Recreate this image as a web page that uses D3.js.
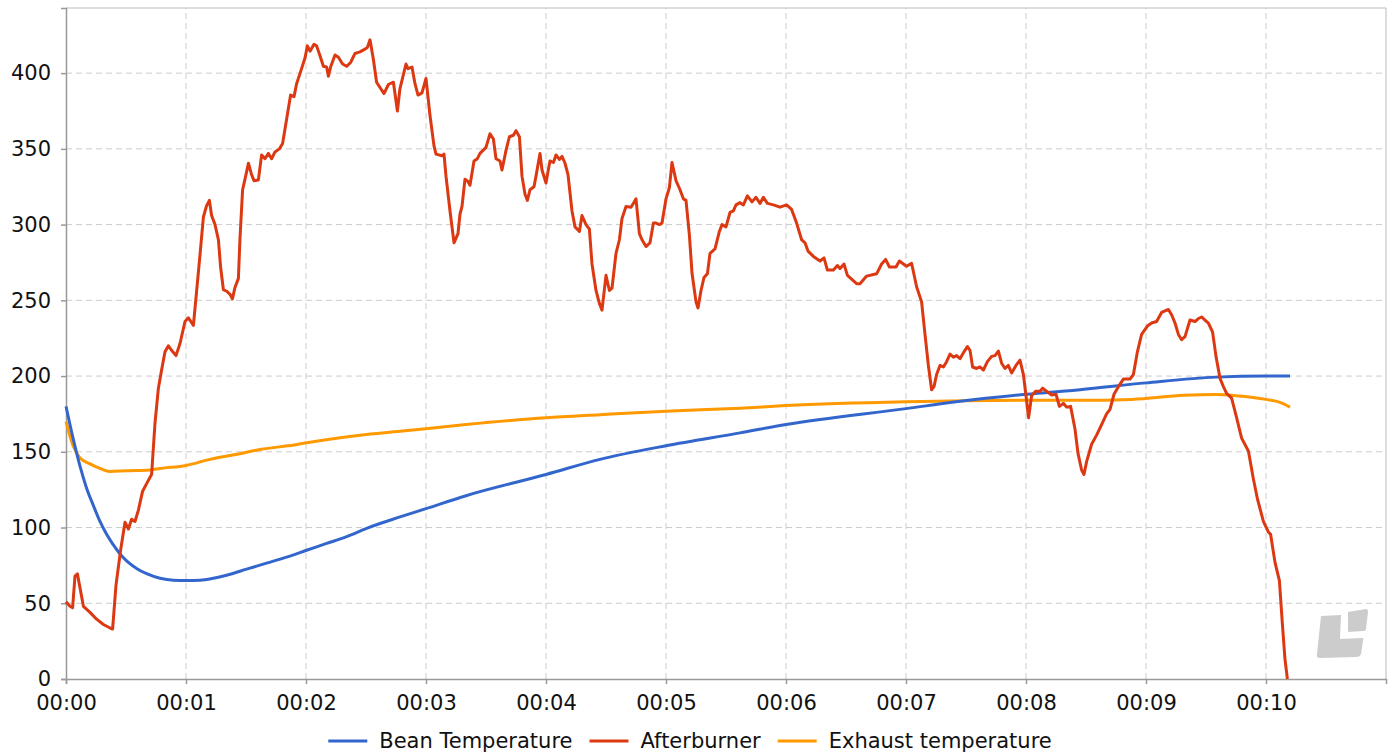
<!DOCTYPE html>
<html>
<head>
<meta charset="utf-8">
<script src="https://cdn.jsdelivr.net/npm/d3@7/dist/d3.min.js"></script>
<style>
  body { margin: 0; background: #fff; }
  svg { display: block; font-family: "DejaVu Sans", sans-serif; }
</style>
</head>
<body>
<svg id="chart" width="1391" height="756"></svg>
<script>
// series names + colours
var seriesNames = ["Bean Temperature", "Afterburner", "Exhaust temperature"];
var seriesColors = ["#3366cc", "#dc3912", "#ff9900"];

// x ticks (seconds) and their labels
var xTicks = [0, 60, 120, 180, 240, 300, 360, 420, 480, 540, 600];
var xTickLabels = ["00:00","00:01","00:02","00:03","00:04","00:05","00:06","00:07","00:08","00:09","00:10"];
var yTicks = [0, 50, 100, 150, 200, 250, 300, 350, 400];

// bean temperature
var beanTime = [0, 3.7, 7, 10.3, 13.7, 17, 20.3, 23.7, 27, 30.3, 35.3, 40.3, 47, 53.7, 60.3, 67, 73.7, 80.3, 90.3, 100.3, 110.3, 120.3, 130.3, 140.3, 150.3, 167, 180, 200, 240, 267, 300, 337, 360, 420, 445, 480, 507, 540, 575, 600, 612];
var beanTemp = [180, 158, 140.5, 126, 114.5, 104, 95.5, 88.5, 82.5, 78, 73, 69.5, 66.5, 65.2, 65, 65.2, 66.5, 68.5, 72.5, 76.5, 80.5, 85, 89.5, 94, 99.5, 107, 112.5, 121, 135, 145, 154, 162.5, 168, 178.5, 183, 188, 191, 195.5, 199.3, 200, 200];

// exhaust temperature
var exhTime = [0, 3.7, 7, 12, 17, 22, 30, 42, 47, 60, 72, 84, 97, 114, 130, 147, 167, 200, 240, 267, 300, 337, 360, 420, 480, 507, 533, 559, 575, 585, 600, 607, 612];
var exhTemp = [170, 153.5, 146, 142, 139, 137, 137.5, 138, 139, 141, 145, 148, 151.5, 154.5, 158, 161, 163.5, 168, 172.5, 174.5, 176.8, 178.8, 180.5, 183, 184, 184, 184.6, 187.3, 187.8, 187, 184.6, 182.6, 179.5];

// afterburner
var abTime = [0, 2, 3.3, 4.5, 5.7, 8.7, 12, 15.3, 18.7, 22.3, 23.3, 25, 27.3, 29.5, 31.2, 32.8, 34.5, 36.2, 38.3, 40.7, 42.8, 44.5, 46.2, 47.8, 49.5, 51.2, 52.8, 55, 57, 59.5, 61.2, 63.7, 65.3, 67, 68.7, 70.3, 71.7, 72.8, 74.5, 76.2, 77.3, 78.7, 80.3, 82, 83.2, 84.5, 86.2, 87, 88.3, 90, 91.2, 92.8, 94, 96.2, 97.8, 99.5, 101.2, 102.8, 104.5, 106.7, 108.3, 110.3, 112.3, 114, 115.3, 117.3, 119.5, 120.7, 122, 124, 125.3, 127, 128.7, 130.3, 131.2, 132.3, 134.5, 136.2, 138.3, 140.3, 142.3, 144.5, 147, 149, 150.7, 152, 153.7, 155.3, 157, 159, 161.2, 163.7, 165.7, 167,
  170, 171, 173, 174.5, 176, 178, 180, 182, 184, 185, 188, 189, 190, 192, 194, 196, 197, 198, 199.5, 201, 202, 204, 205.7, 207, 210, 212, 213.7, 215, 217, 218, 220, 221.7, 223.7, 225, 226.7, 228, 229.5, 230.7, 232, 234, 235, 237, 238, 240, 241, 242, 243.7, 245, 246.7, 248, 249.5, 251, 253, 254.5, 256.7, 258, 260, 261.7, 263, 265, 266.7, 268, 270, 271.7, 273, 275, 276.7, 278, 280, 282.5, 283.7, 285, 286.7, 288, 290, 292, 293.7, 295, 296.7, 298, 300, 301.7, 303, 305, 307, 308.7, 310, 311.7, 313, 315, 316, 317.5, 319, 320.7, 322, 324.5, 326.7, 328, 330, 332, 333.7, 335, 337,
  338.7, 340.7, 343, 345, 347, 348.7, 350.7, 353.7, 357, 360.3, 362.8, 365.3, 367.8, 369.5, 371, 373.7, 377, 379, 380.7, 383.7, 385.7, 387, 389, 390.7, 392.8, 395.3, 397, 400.3, 403.7, 405.3, 407.8, 409.8, 411.7, 415, 416.7, 418.7, 420.3, 422.8, 425.3, 427.8, 429.5, 431.2, 432.8, 434, 435.3, 437, 438.7, 440.3, 442, 443.7, 445.3, 447, 449, 450.7, 452, 453.3, 455.3, 457, 458.7, 460.7, 462.8, 464.5, 466.2, 467.8, 469.5, 471.2, 472.8, 475, 477, 478.7, 480, 481.3, 482.8, 484.8, 487, 488.3, 490.3, 492.8, 495, 496.7, 498.7, 500.3, 502.3,
  504.5, 506, 507.8, 509, 510.3, 512.8, 515.3, 517.8, 520.3, 522, 524, 526.2, 528.7, 532, 533.7, 535.7, 537.8, 540.7, 542.8, 545.3, 547.8, 551.2, 552.8, 554.5, 556.2, 557.8, 559.5, 562, 564.5, 566.2, 567.8, 569.5, 571.2, 573.3, 575, 577, 578.7, 580.3, 582.8, 585.3, 587.8, 591.2, 593.7, 595.7, 598.7, 601.2, 602.3, 604.5, 606.7, 608.2, 609.5, 610.7];
var abTemp = [51, 48, 47, 68, 69.5, 48, 44, 39.5, 36, 33.5, 33, 62, 85, 103.5, 99, 105.5, 104, 111.5, 124, 130, 135, 169, 192, 204, 216, 220, 217, 213.5, 221.5, 236, 238.5, 233.5, 256, 280, 305, 312.5, 316, 306, 300, 290, 272, 257, 256, 254, 251, 258.5, 264.5, 291, 323, 333, 340.5, 333, 329, 329.5, 346, 343.5, 347, 343.5, 348, 350, 353.5, 369.5, 385.5, 384.5, 393, 401, 410, 418, 414.5, 419, 418, 411.5, 404.5, 404, 398, 404, 412, 410.5, 406, 404.5, 407, 413, 414, 415.5, 417, 422, 409, 394, 390.5, 386.5, 392.5, 394, 375, 390,
  406, 403, 404, 393, 385.5, 387, 396.5, 372, 352, 346.5, 345.5, 346.5, 332, 309, 288, 294, 307, 312, 330, 328.5, 326, 342, 343.5, 347, 351, 360, 356.5, 343.5, 342, 336, 349, 358, 359, 362, 358, 332, 320, 316, 323, 325, 332, 347, 336, 327.5, 335, 342, 341, 346, 343, 345, 340.5, 333, 309, 298.5, 295.5, 306, 300, 297, 274, 256.5, 248, 243.5, 266.5, 256.5, 258, 281, 290, 304, 312, 311.5, 314, 317, 294, 290, 285.5, 288, 301, 301, 300, 301, 317, 324.5, 341, 329, 323, 317, 316, 293, 268, 249, 245, 256.5, 265, 267.5, 281, 284, 295.5, 300, 298.5, 308, 309, 313, 314.5,
  313, 319, 315, 318, 314, 318, 314, 313, 311.5, 313, 310, 301, 290, 288, 282.5, 279, 276, 278, 270, 270, 273, 271, 274, 266.5, 264, 261, 261, 266, 267, 267.5, 274, 277, 272, 272, 276, 274, 272.5, 274.5, 259, 249, 227.5, 207, 191, 193, 201, 207, 206, 209.5, 214.5, 212.5, 213.5, 211.5, 216, 219.5, 217, 206, 205, 206, 204, 209.5, 213, 213.5, 216.5, 208.5, 205, 207, 202, 207, 210.5, 201, 187, 172.5, 187, 190, 190, 192, 190, 187.5, 188, 180, 182, 179.5, 180,
  165, 149, 138, 135, 143.5, 155, 161, 168, 175, 178, 188, 193, 198, 198, 201, 216, 227.5, 233, 235, 236, 242, 244, 240.5, 235, 227.5, 224, 226, 237, 236, 238, 239, 237, 235, 229, 213, 198.5, 193, 188.5, 185.5, 172.5, 159, 150.5, 132, 119, 104, 97, 95.5, 77, 65, 36, 13, 0];

var svg = d3.select("#chart");
var margin = {left: 66, right: 5, top: 8, bottom: 77};
var W = 1391, H = 756;

var x = d3.scaleLinear().domain([0, 660]).range([margin.left, W - margin.right]);
var y = d3.scaleLinear().domain([0, 443]).range([H - margin.bottom, margin.top]);

// grid
svg.append("g").selectAll("line").data(yTicks.filter(function(d){return d>0;}))
  .enter().append("line")
  .attr("x1", x(0)).attr("x2", x(660))
  .attr("y1", function(d){return y(d);}).attr("y2", function(d){return y(d);})
  .attr("stroke", "#cccccc").attr("stroke-dasharray", "6,4");
svg.append("g").selectAll("line").data(xTicks.filter(function(d){return d>0;}))
  .enter().append("line")
  .attr("y1", y(0)).attr("y2", y(443))
  .attr("x1", function(d){return x(d);}).attr("x2", function(d){return x(d);})
  .attr("stroke", "#cccccc").attr("stroke-dasharray", "6,4");

// frame top/right
svg.append("path")
  .attr("d", "M" + x(0) + "," + y(443) + "H" + x(660) + "V" + y(0))
  .attr("fill", "none").attr("stroke", "#bbbbbb");

// watermark logo (decoration)
svg.append("path")
  .attr("d", "M1321,616 L1341,615 L1340,639 L1362,638 Q1364,638 1363,641 L1361,654 Q1360,657 1356,657 L1320,658 Q1316,658 1317,654 Z M1348,612 L1366,609 Q1368,609 1368,612 L1366,629 Q1366,631 1363,631 L1348,632 Z")
  .attr("fill", "#cccccc");

// axes
var yAxis = svg.append("g")
  .attr("transform", "translate(" + x(0) + ",0)")
  .call(d3.axisLeft(y).tickValues(yTicks).tickSize(5).tickPadding(10));
var xAxis = svg.append("g")
  .attr("transform", "translate(0," + y(0) + ")")
  .call(d3.axisBottom(x).tickValues(xTicks).tickSize(5).tickPadding(11)
    .tickFormat(function(d, i){ return xTickLabels[i]; }));
[yAxis, xAxis].forEach(function(a){
  a.select(".domain").attr("stroke", "#999999").attr("stroke-width", 1.5);
  a.selectAll(".tick line").attr("stroke", "#999999").attr("stroke-width", 1.5);
  a.selectAll(".tick text").attr("fill", "#111").style("font-size", "21px").style("font-family", "DejaVu Sans");
});

// lines
function series(times, temps){
  return times.map(function(t, i){ return [t, temps[i]]; });
}
var data = [series(beanTime, beanTemp), series(abTime, abTemp), series(exhTime, exhTemp)];
var smoothLine = d3.line().x(function(d){return x(d[0]);}).y(function(d){return y(d[1]);}).curve(d3.curveMonotoneX);
var rawLine = d3.line().x(function(d){return x(d[0]);}).y(function(d){return y(d[1]);});

var order = [2, 0, 1];
order.forEach(function(k){
  svg.append("path")
    .datum(data[k])
    .attr("fill", "none")
    .attr("stroke", seriesColors[k])
    .attr("stroke-width", 3)
    .attr("stroke-linejoin", "round")
    .attr("d", k === 1 ? rawLine : smoothLine);
});

// legend
var legend = svg.append("g").attr("transform", "translate(0,741)");
var items = legend.selectAll("g").data(seriesNames).enter().append("g");
items.append("line").attr("x1", 0).attr("x2", 39).attr("y1", 0).attr("y2", 0)
  .attr("stroke", function(d, i){return seriesColors[i];}).attr("stroke-width", 3);
items.append("text").attr("x", 51).attr("dy", "0.35em").text(function(d){return d;})
  .style("font-size", "21px").attr("fill", "#111");
var widths = [];
items.each(function(){
  widths.push(51 + d3.select(this).select("text").node().getComputedTextLength());
});
var gap = 17;
var total = d3.sum(widths) + gap * (widths.length - 1);
var pos = 690 - total / 2;
items.attr("transform", function(d, i){
  var p = pos;
  pos += widths[i] + gap;
  return "translate(" + p + ",0)";
});
</script>
</body>
</html>
